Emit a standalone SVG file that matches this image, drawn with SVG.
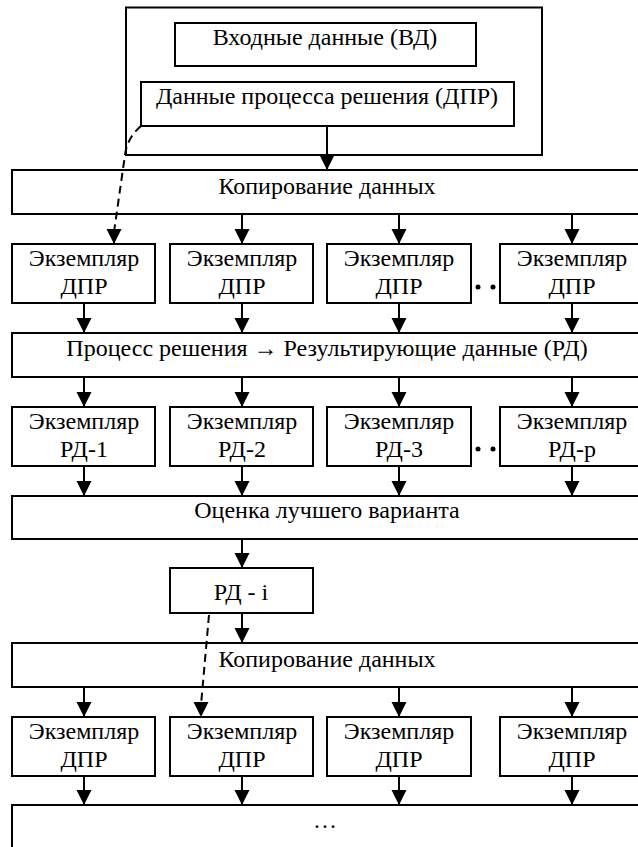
<svg xmlns="http://www.w3.org/2000/svg" width="638" height="847" viewBox="0 0 638 847">
<defs>
<marker id="ah" markerUnits="userSpaceOnUse" markerWidth="16" markerHeight="16" viewBox="0 0 16 16" refX="15" refY="7.5" orient="auto">
<path d="M0,0 L15,7.5 L0,15 z" fill="#000"/>
</marker>
<style>
rect{fill:#fff;stroke:#000;stroke-width:2}
text{font-family:"Liberation Serif","Times New Roman",serif;font-size:24px;fill:#000;text-anchor:middle}
.c line,.c path{stroke:#000;stroke-width:2;fill:none;marker-end:url(#ah)}
.c .d{stroke-dasharray:8,5}
</style>
</defs>
<rect x="0" y="0" width="638" height="847" style="stroke:none"/>
<g id="outer"><rect x="126" y="7.5" width="416" height="147.5"/></g>
<g id="vd"><rect x="175" y="23" width="301" height="43"/><text x="325" y="45">Входные данные (ВД)</text></g>
<g id="dpr"><rect x="141" y="82" width="373" height="44"/><text x="327" y="104">Данные процесса решения (ДПР)</text></g>
<g id="copy1"><rect x="12" y="170" width="680" height="44"/><text x="327" y="194">Копирование данных</text></g>
<g id="e1"><rect x="12" y="244" width="143" height="59"/><text x="84" y="266">Экземпляр</text><text x="84" y="294">ДПР</text></g>
<g id="e2"><rect x="170" y="244" width="143" height="59"/><text x="242" y="266">Экземпляр</text><text x="242" y="294">ДПР</text></g>
<g id="e3"><rect x="327" y="244" width="144" height="59"/><text x="399" y="266">Экземпляр</text><text x="399" y="294">ДПР</text></g>
<g id="e4"><rect x="500" y="244" width="144" height="59"/><text x="572" y="266">Экземпляр</text><text x="572" y="294">ДПР</text></g>
<g id="dots1"><circle cx="478" cy="287" r="2.5"/><circle cx="493" cy="287" r="2.5"/></g>
<g id="proc"><rect x="12" y="333" width="680" height="44"/><text x="327" y="356">Процесс решения → Результирующие данные (РД)</text></g>
<g id="r1"><rect x="12" y="407" width="143" height="59"/><text x="84" y="429">Экземпляр</text><text x="84" y="457">РД-1</text></g>
<g id="r2"><rect x="170" y="407" width="143" height="59"/><text x="242" y="429">Экземпляр</text><text x="242" y="457">РД-2</text></g>
<g id="r3"><rect x="327" y="407" width="144" height="59"/><text x="399" y="429">Экземпляр</text><text x="399" y="457">РД-3</text></g>
<g id="r4"><rect x="500" y="407" width="144" height="59"/><text x="572" y="429">Экземпляр</text><text x="572" y="457">РД-p</text></g>
<g id="dots2"><circle cx="478" cy="449" r="2.5"/><circle cx="493" cy="449" r="2.5"/></g>
<g id="best"><rect x="12" y="496" width="680" height="43"/><text x="327" y="518">Оценка лучшего варианта</text></g>
<g id="rdi"><rect x="170" y="568" width="143" height="45"/><text x="241" y="600">РД - i</text></g>
<g id="copy2"><rect x="12" y="643" width="680" height="44"/><text x="327" y="667">Копирование данных</text></g>
<g id="f1"><rect x="12" y="717" width="143" height="59"/><text x="84" y="739">Экземпляр</text><text x="84" y="767">ДПР</text></g>
<g id="f2"><rect x="170" y="717" width="143" height="59"/><text x="242" y="739">Экземпляр</text><text x="242" y="767">ДПР</text></g>
<g id="f3"><rect x="327" y="717" width="144" height="59"/><text x="399" y="739">Экземпляр</text><text x="399" y="767">ДПР</text></g>
<g id="f4"><rect x="500" y="717" width="144" height="59"/><text x="572" y="739">Экземпляр</text><text x="572" y="767">ДПР</text></g>
<g id="more"><rect x="12" y="805" width="680" height="80"/><text x="325" y="828">…</text></g>
<g id="connectors" class="c">
<line x1="327" y1="126" x2="327" y2="170"/>
<path class="d" d="M141,126 Q127,138 125,155 L114,232 L114,244"/>
<line x1="242" y1="214" x2="242" y2="244"/>
<line x1="399" y1="214" x2="399" y2="244"/>
<line x1="572" y1="214" x2="572" y2="244"/>
<line x1="84" y1="303" x2="84" y2="333"/>
<line x1="242" y1="303" x2="242" y2="333"/>
<line x1="399" y1="303" x2="399" y2="333"/>
<line x1="572" y1="303" x2="572" y2="333"/>
<line x1="84" y1="377" x2="84" y2="407"/>
<line x1="242" y1="377" x2="242" y2="407"/>
<line x1="399" y1="377" x2="399" y2="407"/>
<line x1="572" y1="377" x2="572" y2="407"/>
<line x1="84" y1="466" x2="84" y2="496"/>
<line x1="242" y1="466" x2="242" y2="496"/>
<line x1="399" y1="466" x2="399" y2="496"/>
<line x1="572" y1="466" x2="572" y2="496"/>
<line x1="242" y1="539" x2="242" y2="568"/>
<line x1="242" y1="613" x2="242" y2="643"/>
<path class="d" d="M209,615 L201,705 L201,717"/>
<line x1="84" y1="687" x2="84" y2="717"/>
<line x1="399" y1="687" x2="399" y2="717"/>
<line x1="572" y1="687" x2="572" y2="717"/>
<line x1="84" y1="776" x2="84" y2="805"/>
<line x1="242" y1="776" x2="242" y2="805"/>
<line x1="399" y1="776" x2="399" y2="805"/>
<line x1="572" y1="776" x2="572" y2="805"/>
</g>
</svg>
